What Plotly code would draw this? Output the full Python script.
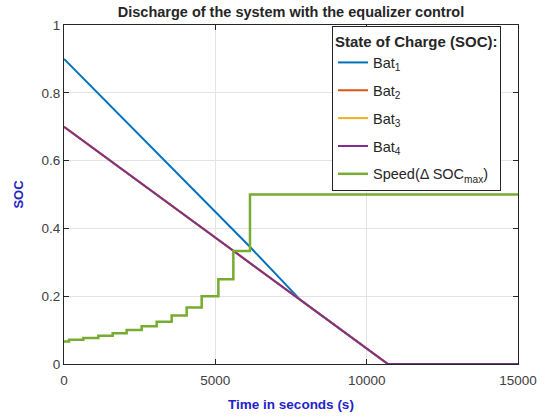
import plotly.graph_objects as go

# ---- data ----
bat1_t = [0, 6150, 7800, 10700, 15000]
bat1_soc = [0.9, 0.345, 0.19, 0.0, 0.0]

bat234_t = [0, 10700, 15000]
bat2_soc = [0.7, 0.0, 0.0]
bat3_soc = [0.7, 0.0, 0.0]
bat4_soc = [0.7, 0.0, 0.0]

speed_t = [0, 165, 639, 1134, 1608, 2070, 2566, 3062, 3558, 4053, 4549, 5100, 5595, 6145, 15000]
speed_v = [0.0667, 0.0714, 0.0769, 0.0833, 0.0909, 0.1, 0.111, 0.125, 0.143, 0.167, 0.2, 0.25, 0.333, 0.5, 0.5]

x_ticks = [0, 5000, 10000, 15000]
y_ticks = [0, 0.2, 0.4, 0.6, 0.8, 1]

colors = ["#0072BD", "#D95319", "#EDB120", "#7E2F8E", "#77AC30"]
FONT = "Liberation Sans, Arial, sans-serif"

# plot area in page pixels
PX0, PX1, PY0, PY1 = 64, 518, 25, 364
L, R, T, B = PX0, 551 - PX1, PY0, 418 - PY1

def paper_x(px):
    return (px - PX0) / (PX1 - PX0)

def paper_y(py):
    return (PY1 - py) / (PY1 - PY0)

fig = go.Figure()
names = ["Bat<sub>1</sub>", "Bat<sub>2</sub>", "Bat<sub>3</sub>", "Bat<sub>4</sub>", "Speed(Δ SOC<sub>max</sub>)"]
fig.add_trace(go.Scatter(x=bat1_t, y=bat1_soc, mode="lines", name=names[0], legendgroup="g1",
                         line=dict(color=colors[0], width=2)))
fig.add_trace(go.Scatter(x=bat234_t, y=bat2_soc, mode="lines", name=names[1], legendgroup="g2",
                         line=dict(color=colors[1], width=2)))
fig.add_trace(go.Scatter(x=bat234_t, y=bat3_soc, mode="lines", name=names[2], legendgroup="g3",
                         line=dict(color=colors[2], width=2)))
fig.add_trace(go.Scatter(x=bat234_t, y=bat4_soc, mode="lines", name=names[3], legendgroup="g4",
                         line=dict(color=colors[3], width=2)))
fig.add_trace(go.Scatter(x=speed_t, y=speed_v, mode="lines", name=names[4], legendgroup="g5",
                         line=dict(color=colors[4], width=2.5, shape="hv")))

axis_common = dict(
    showline=True, linecolor="#262626", linewidth=1, mirror="ticks",
    ticks="inside", ticklen=5, tickcolor="#262626",
    showgrid=True, gridcolor="#e3e3e3", gridwidth=1,
    zeroline=False,
    tickfont=dict(family=FONT, size=13.5, color="#404040"),
)

LEG_LEFT, LEG_TOP, LEG_RIGHT = 332, 26, 500

fig.update_layout(
    width=551, height=418,
    margin=dict(l=L, r=R, t=T, b=B, autoexpand=False),
    paper_bgcolor="white", plot_bgcolor="white",
    font=dict(family=FONT),
    title=dict(text="<b>Discharge of the system with the equalizer control</b>",
               x=291 / 551, xanchor="center", y=1 - 12 / 418, yanchor="middle",
               font=dict(family=FONT, size=14.5, color="#262626")),
    xaxis=dict(range=[0, 15000], tickvals=x_ticks, ticktext=[str(v) for v in x_ticks],
               ticklabelstandoff=4,
               title=dict(text="<b>Time in seconds (s)</b>", standoff=12,
                          font=dict(family=FONT, size=13.5, color="#2323c8")),
               **axis_common),
    yaxis=dict(range=[0, 1], tickvals=y_ticks, ticktext=["0", "0.2", "0.4", "0.6", "0.8", "1"],
               title=dict(text="<b>SOC</b>", standoff=14,
                          font=dict(family=FONT, size=13, color="#2323c8")),
               **axis_common),
    legend=dict(
        x=paper_x(LEG_LEFT), xanchor="left", y=paper_y(LEG_TOP), yanchor="top",
        bgcolor="white", bordercolor="#262626", borderwidth=1,
        font=dict(family=FONT, size=14.5, color="#262626"),
        title=dict(text="<b>State of Charge (SOC):</b>", font=dict(family=FONT, size=15, color="#262626")),
        itemwidth=30, tracegroupgap=6,
    ),
    showlegend=True,
    shapes=[dict(type="line", xref="paper", yref="paper",
                 x0=paper_x(LEG_LEFT), x1=paper_x(LEG_RIGHT), y0=paper_y(51), y1=paper_y(51),
                 line=dict(color="#262626", width=1), layer="above")],
)

# remove the browser's default 8px body margin so the figure sits at the page origin
fig.write_html("out.html", config={"displayModeBar": False},
               post_script="document.body.style.margin='0';")
